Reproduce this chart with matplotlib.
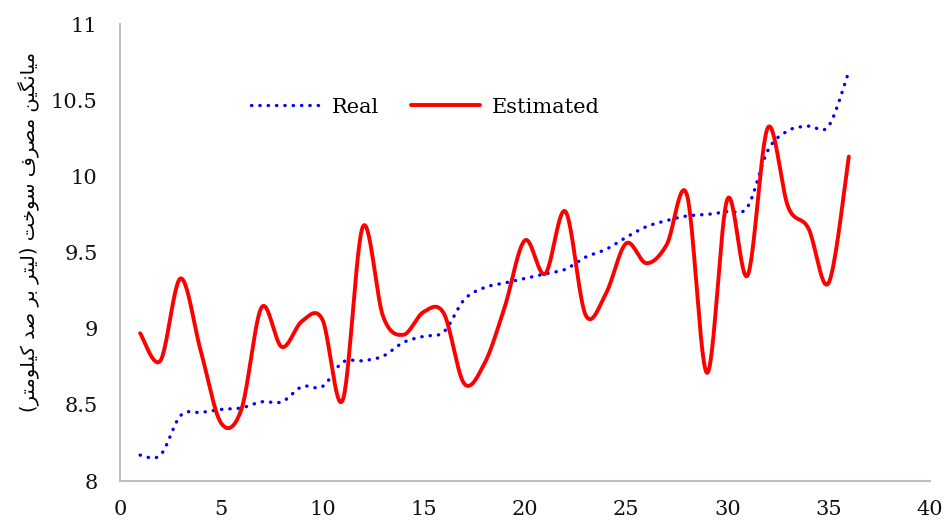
import matplotlib
matplotlib.use("Agg")
import matplotlib.pyplot as plt
import numpy as np

# داده‌ها: مصرف سوخت واقعی و تخمینی برای 36 نمونه
samples = list(range(1, 37))
real = [8.17, 8.17, 8.43, 8.45, 8.47, 8.48, 8.52, 8.52, 8.62, 8.62,
        8.78, 8.79, 8.82, 8.91, 8.95, 8.98, 9.19, 9.27, 9.30, 9.33,
        9.36, 9.39, 9.47, 9.52, 9.60, 9.67, 9.71, 9.74, 9.75, 9.77,
        9.80, 10.17, 10.30, 10.33, 10.33, 10.69]
estimated = [8.97, 8.79, 9.33, 8.85, 8.38, 8.47, 9.14, 8.88, 9.05, 9.06,
             8.53, 9.67, 9.08, 8.96, 9.11, 9.10, 8.64, 8.77, 9.14, 9.58,
             9.36, 9.77, 9.09, 9.23, 9.56, 9.43, 9.55, 9.88, 8.71, 9.85,
             9.35, 10.32, 9.80, 9.66, 9.30, 10.13]
x_ticks = [0, 5, 10, 15, 20, 25, 30, 35, 40]
y_ticks = [8, 8.5, 9, 9.5, 10, 10.5, 11]
y_title = "میانگین مصرف سوخت (لیتر بر صد کیلومتر)"

# فرم‌های نمایشی حروف: (تنها، پایانی، آغازی، میانی)
forms = {
    "م": ("\ufee1", "\ufee2", "\ufee3", "\ufee4"),
    "ی": ("\ufbfc", "\ufbfd", "\ufbfe", "\ufbff"),
    "ا": ("\ufe8d", "\ufe8e", None, None),
    "ن": ("\ufee5", "\ufee6", "\ufee7", "\ufee8"),
    "گ": ("\ufb92", "\ufb93", "\ufb94", "\ufb95"),
    "ص": ("\ufeb9", "\ufeba", "\ufebb", "\ufebc"),
    "ر": ("\ufead", "\ufeae", None, None),
    "ف": ("\ufed1", "\ufed2", "\ufed3", "\ufed4"),
    "س": ("\ufeb1", "\ufeb2", "\ufeb3", "\ufeb4"),
    "و": ("\ufeed", "\ufeee", None, None),
    "خ": ("\ufea5", "\ufea6", "\ufea7", "\ufea8"),
    "ت": ("\ufe95", "\ufe96", "\ufe97", "\ufe98"),
    "ل": ("\ufedd", "\ufede", "\ufedf", "\ufee0"),
    "ب": ("\ufe8f", "\ufe90", "\ufe91", "\ufe92"),
    "د": ("\ufea9", "\ufeaa", None, None),
    "ک": ("\ufb8e", "\ufb8f", "\ufb90", "\ufb91"),
}
mirror = {"(": ")", ")": "("}


def shape_rtl(text):
    out = []
    for i, ch in enumerate(text):
        if ch not in forms:
            out.append(mirror.get(ch, ch))
            continue
        prev = text[i - 1] if i > 0 else ""
        nxt = text[i + 1] if i + 1 < len(text) else ""
        join_prev = prev in forms and forms[prev][2] is not None
        join_next = nxt in forms and forms[ch][2] is not None
        iso, fin, ini, med = forms[ch]
        if join_prev and join_next:
            out.append(med)
        elif join_prev:
            out.append(fin)
        elif join_next:
            out.append(ini)
        else:
            out.append(iso)
    return "".join(reversed(out))


def smooth(xs, ys, n=30):
    # منحنی نرم شبیه اکسل (کاتمول-رام با قطعه‌های بزیه)
    p = np.column_stack([xs, ys]).astype(float)
    p = np.vstack([p[0], p, p[-1]])
    t = np.linspace(0, 1, n)[:, None]
    pts = []
    for i in range(1, len(p) - 2):
        p0, p1, p2, p3 = p[i - 1], p[i], p[i + 1], p[i + 2]
        c1 = p1 + (p2 - p0) / 6
        c2 = p2 - (p3 - p1) / 6
        seg = ((1 - t) ** 3) * p1 + 3 * ((1 - t) ** 2) * t * c1 \
            + 3 * (1 - t) * t ** 2 * c2 + t ** 3 * p2
        pts.append(seg if i == 1 else seg[1:])
    pts = np.vstack(pts)
    return pts[:, 0], pts[:, 1]


plt.rcParams['font.family'] = ['DejaVu Serif']

fig = plt.figure(figsize=(9.44, 5.23), dpi=100)
ax = fig.add_axes([0.127, 0.0803, 0.858, 0.8737])

rx, ry = smooth(samples, real)
ex, ey = smooth(samples, estimated)
ax.plot(rx, ry, color='#0000ff', lw=2.4, linestyle=(0, (0.1, 2.4)),
        dash_capstyle='round', label='Real')
ax.plot(ex, ey, color='#ff0000', lw=2.8, solid_capstyle='round', label='Estimated')

ax.set_xlim(0, 40)
ax.set_ylim(8, 11)
ax.set_xticks(x_ticks)
ax.set_yticks(y_ticks)
ax.set_yticklabels(['{:g}'.format(v) for v in y_ticks])
ax.tick_params(length=0, labelsize=15, colors='#111111')
ax.tick_params(axis='y', pad=16)
ax.tick_params(axis='x', pad=14)

for side in ['top', 'right']:
    ax.spines[side].set_visible(False)
for side in ['left', 'bottom']:
    ax.spines[side].set_color('#bfbfbf')
    ax.spines[side].set_linewidth(1.5)

ax.set_ylabel(shape_rtl(y_title), family=['DejaVu Sans'], fontsize=14, color='#000000')
ax.yaxis.set_label_coords(-0.099, 0.545)

ax.legend(loc='center left', bbox_to_anchor=(0.162, 0.818), ncol=2, frameon=False,
          fontsize=15, handlelength=3.3, handletextpad=0.6, columnspacing=1.5,
          borderaxespad=0, borderpad=0)

fig.savefig('out.png', dpi=100)
